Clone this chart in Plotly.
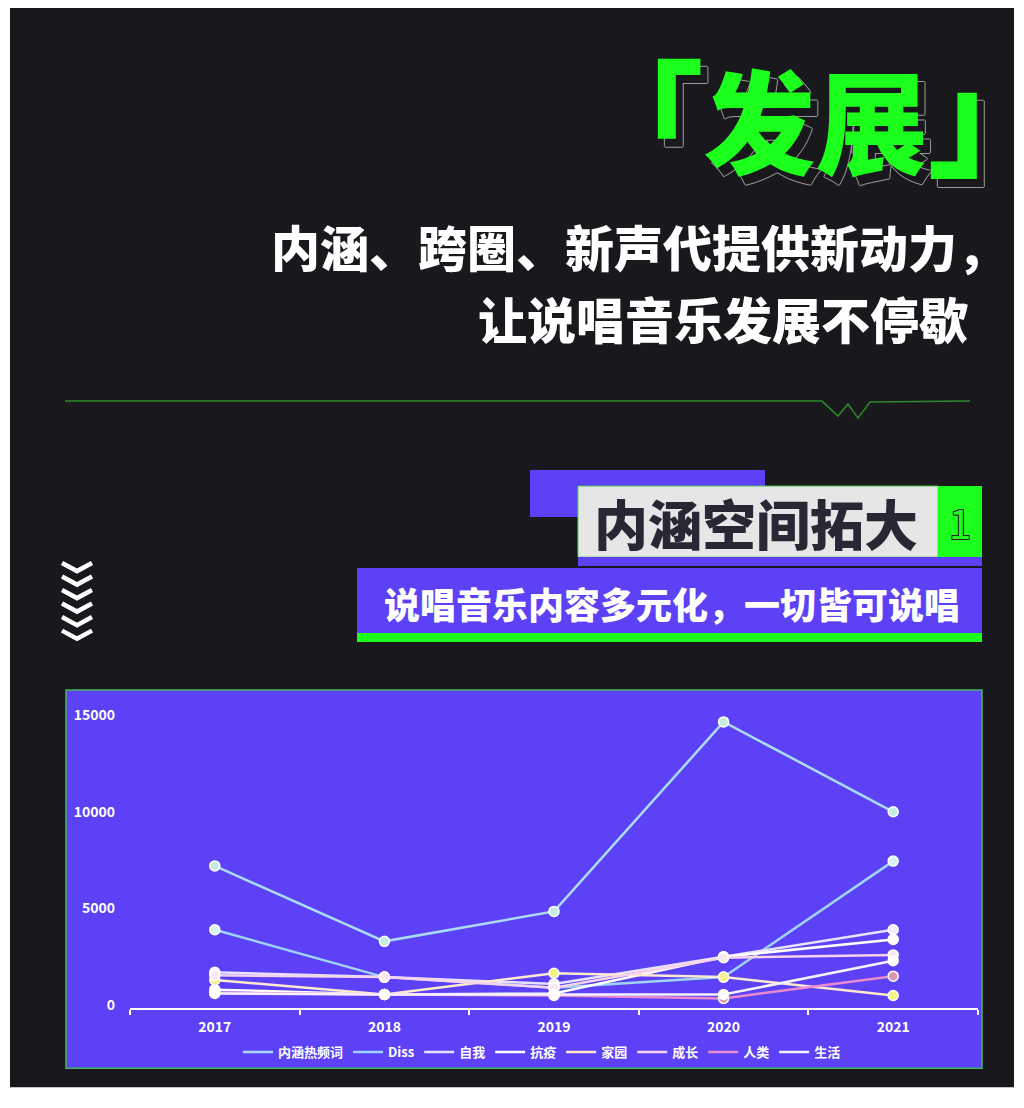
import plotly.graph_objects as go

# 数据
years = ["2017", "2018", "2019", "2020", "2021"]
hot_words = [7200, 3300, 4850, 14650, 10000]
diss = [3900, 1450, 900, 1450, 7450]
ziwo = [1700, 1450, 1100, 2500, 3900]
kangyi = [800, 550, 600, 2500, 3400]
jiayuan = [1300, 550, 1650, 1450, 500]
chengzhang = [1550, 1450, 900, 2450, 2600]
renlei = [650, 550, 500, 350, 1500]
shenghuo = [600, 550, 550, 550, 2300]

series_names = ["内涵热频词", "Diss", "自我", "抗疫", "家园", "成长", "人类", "生活"]
series_values = [hot_words, diss, ziwo, kangyi, jiayuan, chengzhang, renlei, shenghuo]
line_colors = ["#a9dcf2", "#9fd3f7", "#e6e2ff", "#ffffff", "#fde9cf", "#f6d3ea", "#e98ccf", "#f4f2ff"]
dot_colors = ["#c4ece2", "#d8f2f0", "#f2f0ff", "#ffffff", "#f4f08a", "#fbe8f4", "#d99ab0", "#ffffff"]
y_ticks = [0, 5000, 10000, 15000]

# 页面有 8px 的默认边距，坐标按截图像素换算（截图纵向略有压缩）
OFF = 8
SY = 0.9944
W, H = 1016, 1092
BG = "#19181d"
PURPLE = "#5c41f6"
GREEN = "#1cff1c"
FONT = "Noto Sans CJK SC"


def px(x):
    return (x - OFF) / W


def py(y):
    return 1 - (y / SY - OFF) / H


fig = go.Figure()

# 折线
for name, vals, c in zip(series_names, series_values, line_colors):
    fig.add_trace(go.Scatter(x=years, y=vals, name=name, mode="lines",
                             line=dict(color=c, width=2.5)))
# 圆点
for name, vals, c in zip(series_names, series_values, dot_colors):
    fig.add_trace(go.Scatter(x=years, y=vals, name=name, mode="markers", showlegend=False,
                             marker=dict(size=10, color=c, line=dict(color="white", width=1.5))))

shapes = [
    # 深色背景
    dict(type="rect", xref="paper", yref="paper", x0=px(10), x1=px(1014), y0=py(1087), y1=1,
         fillcolor=BG, line_width=0, layer="below"),
    # 绿色分隔线 + 折角
    dict(type="path", xref="paper", yref="paper",
         path=f"M {px(65)},{py(401)} L {px(822)},{py(401)} L {px(838)},{py(416)} L {px(848)},{py(404)} "
              f"L {px(858)},{py(418)} L {px(870)},{py(402)} L {px(970)},{py(401)}",
         line=dict(color="#2e8a2e", width=1.5)),
    # 紫色小块
    dict(type="rect", xref="paper", yref="paper", x0=px(530), x1=px(765), y0=py(517), y1=py(470),
         fillcolor=PURPLE, line_width=0),
    # 灰色标题框
    dict(type="rect", xref="paper", yref="paper", x0=px(578), x1=px(938), y0=py(557), y1=py(486),
         fillcolor="#e6e6e6", line=dict(color="#5fd35f", width=1)),
    # 绿色编号框
    dict(type="rect", xref="paper", yref="paper", x0=px(938), x1=px(982), y0=py(557), y1=py(486),
         fillcolor=GREEN, line_width=0),
    # 紫色窄条
    dict(type="rect", xref="paper", yref="paper", x0=px(578), x1=px(982), y0=py(566), y1=py(557),
         fillcolor=PURPLE, line_width=0),
    # 紫色副标题条
    dict(type="rect", xref="paper", yref="paper", x0=px(357), x1=px(982), y0=py(633), y1=py(568),
         fillcolor=PURPLE, line_width=0),
    dict(type="rect", xref="paper", yref="paper", x0=px(357), x1=px(982), y0=py(642), y1=py(633),
         fillcolor=GREEN, line_width=0),
    # 图表面板
    dict(type="rect", xref="paper", yref="paper", x0=px(66), x1=px(982), y0=py(1068), y1=py(690),
         fillcolor=PURPLE, line=dict(color="#45b85a", width=1.5), layer="below"),
]

# 左侧箭头
for i in range(6):
    top = 563 + i * 13.5
    shapes.append(dict(type="path", xref="paper", yref="paper",
                       path=f"M {px(62)},{py(top)} L {px(77)},{py(top + 8)} L {px(92)},{py(top)}",
                       line=dict(color="white", width=4.5)))

# 「发展」：用 text-shadow 做错位的灰色描边
title_shadow = ", ".join([f"7px 8px 0 {BG}"] + [f"{a}px {b}px 0 #9a9a9a"
                                                 for a, b in [(6, 8), (8, 8), (7, 7), (7, 9)]])
span = '<span style="font-size:{}px">{}</span>'
annotations = [
    dict(text=span.format(125, "｢") + "发展" + span.format(135, "｣"), x=px(818), y=py(107),
         font=dict(size=112, color=GREEN, family=FONT, weight=900, shadow=title_shadow)),
    # 副标题
    dict(text="内涵、跨圈、新声代提供新动力，", x=px(1008), y=py(245), xanchor="right",
         font=dict(size=49, color="white", family=FONT, weight=900)),
    dict(text="让说唱音乐发展不停歇", x=px(970), y=py(317), xanchor="right",
         font=dict(size=49, color="white", family=FONT, weight=900)),
    # 小标题
    dict(text="内涵空间拓大", x=px(920), y=py(522), xanchor="right",
         font=dict(size=54, color="#2a2634", family=FONT, weight=900)),
    dict(text="1", x=px(960), y=py(522),
         font=dict(size=40, color=GREEN, family=FONT, weight=400,
                   shadow="1px 1px #222, -1px -1px #222, 1px -1px #222, -1px 1px #222")),
    dict(text="说唱音乐内容多元化，一切皆可说唱", x=px(962), y=py(603), xanchor="right",
         font=dict(size=36, color="white", family=FONT, weight=900)),
]
for a in annotations:
    a.setdefault("xref", "paper")
    a.setdefault("yref", "paper")
    a.setdefault("xanchor", "center")
    a.setdefault("yanchor", "middle")
    a["showarrow"] = False

fig.update_layout(
    width=W, height=H,
    margin=dict(l=0, r=0, t=0, b=0),
    paper_bgcolor="white",
    plot_bgcolor="rgba(0,0,0,0)",
    shapes=shapes,
    annotations=annotations,
    font=dict(family=FONT, color="white"),
    showlegend=True,
    legend=dict(orientation="h", x=px(542), y=py(1052), xanchor="center", yanchor="middle",
                bgcolor="rgba(0,0,0,0)", font=dict(size=13, color="white", family=FONT, weight="bold"),
                itemwidth=30, tracegroupgap=0),
    xaxis=dict(domain=[px(130), px(978)], range=[-0.5, 4.5], type="category",
               showline=True, linecolor="white", linewidth=2,
               ticks="outside", tickson="boundaries", ticklen=5, tickcolor="white", tickwidth=2,
               showgrid=False, zeroline=False, ticklabelstandoff=5,
               tickfont=dict(size=14, color="white", family=FONT, weight="bold")),
    yaxis=dict(domain=[py(1008), py(700)], range=[-155, 15776],
               tickvals=y_ticks, ticktext=[str(v) for v in y_ticks],
               showgrid=False, zeroline=False, showline=False,
               ticks="", ticklabelstandoff=14,
               tickfont=dict(size=14, color="white", family=FONT, weight="bold")),
)

fig.write_html("out.html")
